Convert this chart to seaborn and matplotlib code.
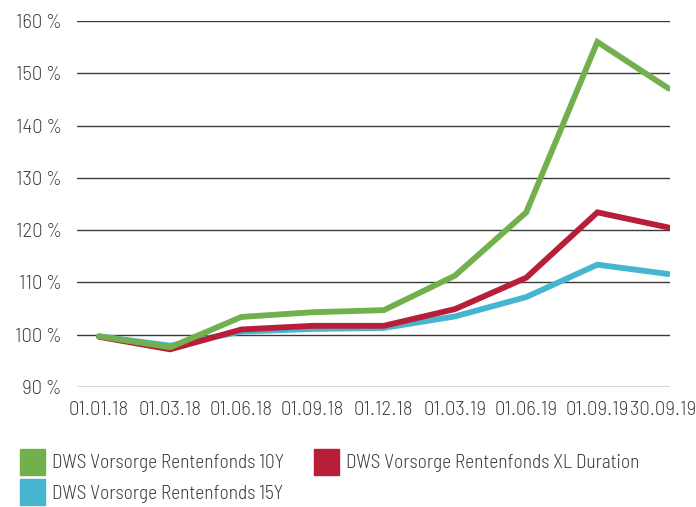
import matplotlib
matplotlib.use("Agg")
import matplotlib.pyplot as plt
import matplotlib.transforms as mtransforms
import seaborn as sns
import pandas as pd
from matplotlib.patches import Patch
from matplotlib.font_manager import FontProperties

dates = ["01.01.18", "01.03.18", "01.06.18", "01.09.18", "01.12.18",
         "01.03.19", "01.06.19", "01.09.19", "30.09.19"]
s10y = [99.7, 97.6, 103.4, 104.3, 104.7, 111.3, 123.4, 156.0, 147.1]
sxl = [99.6, 97.2, 101.0, 101.7, 101.7, 104.9, 110.9, 123.4, 120.5]
s15y = [99.7, 97.9, 100.6, 101.1, 101.3, 103.5, 107.2, 113.4, 111.6]
names = ["DWS Vorsorge Rentenfonds 10Y", "DWS Vorsorge Rentenfonds XL Duration",
         "DWS Vorsorge Rentenfonds 15Y"]
colors = ["#72b04d", "#b81e38", "#45b5d0"]
yticks = [90, 100, 110, 120, 130, 140, 150, 160]

sns.set_theme(style="white")
plt.rcParams["font.family"] = ["Barlow Semi Condensed", "DejaVu Sans"]
plt.rcParams["font.weight"] = 300

tick_font = FontProperties(family=["Barlow", "DejaVu Sans"], weight=300, size=13.3)

rows = []
for name, vals in zip(names, [s10y, sxl, s15y]):
    for i, (d, v) in enumerate(zip(dates, vals)):
        rows.append({"pos": i, "date": d, "value": v, "fund": name})
df = pd.DataFrame(rows)

fig = plt.figure(figsize=(6.96, 5.07), dpi=100)
ax = fig.add_axes([77/696, 1-387/507, (670-77)/696, (387-21)/507])

for y in yticks:
    ax.axhline(y, color="#3a3a3a", lw=1.0, zorder=0)

order = [names[2], names[1], names[0]]
pal = dict(zip(names, colors))
for n in order:
    sub = df[df["fund"] == n]
    sns.lineplot(data=sub, x="pos", y="value", color=pal[n], lw=4.2, ax=ax,
                 legend=False, solid_joinstyle="miter")

ax.set_xlim(-0.31, 8.02)
ax.set_ylim(90, 160)
ax.set_xticks(range(len(dates)))
ax.set_xticklabels(dates, fontproperties=tick_font, color="#3c3c3c")
ax.set_yticks(yticks)
ax.set_yticklabels([f"{y} %" for y in yticks], fontproperties=tick_font, color="#3c3c3c")
ax.tick_params(axis="y", length=0, pad=11)
ax.tick_params(axis="x", length=0, pad=10)
ax.set_xlabel("")
ax.set_ylabel("")
for s in ax.spines.values():
    s.set_visible(False)

# nudge the last date label left so it stays inside the figure
last = ax.get_xticklabels()[-1]
last.set_transform(last.get_transform() +
                   mtransforms.ScaledTranslation(-6/100, 0, fig.dpi_scale_trans))

handles = [Patch(color=colors[0], label=names[0]),
           Patch(color=colors[2], label=names[2]),
           Patch(color=colors[1], label=names[1])]
fig.legend(handles=handles, loc="upper left", bbox_to_anchor=(20/696, 1-449/507),
           ncol=2, frameon=False, fontsize=13.9, labelcolor="#3c3c3c",
           handlelength=1.3, handleheight=1.7, handletextpad=0.35,
           columnspacing=1.55, labelspacing=0.22, borderaxespad=0, borderpad=0)

fig.savefig("out.png", dpi=100)
